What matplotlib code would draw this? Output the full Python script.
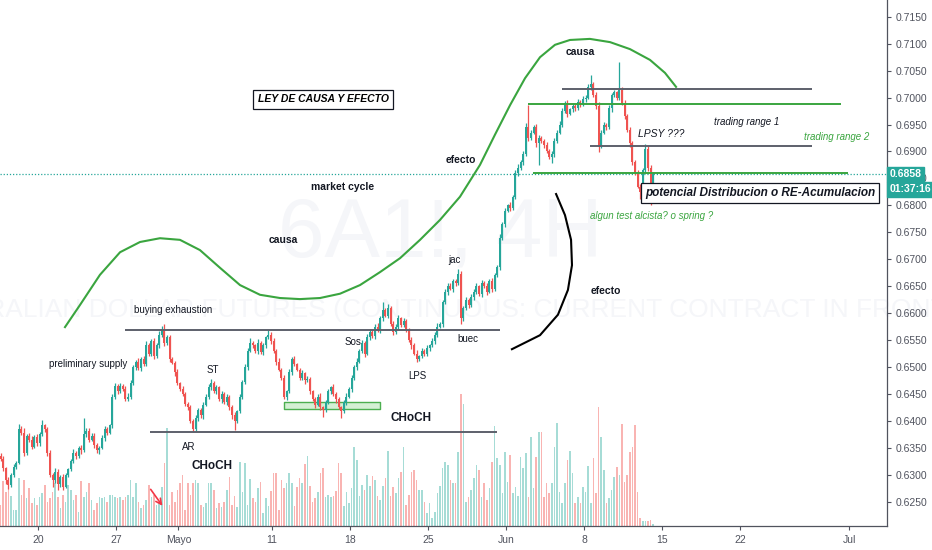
import matplotlib
matplotlib.use('Agg')
import matplotlib.pyplot as plt
import numpy as np

plt.rcParams['font.family'] = ['Liberation Sans', 'DejaVu Sans']

# 6A1! 4H candles, prices in pips (1e-4), open of each bar = previous close
first_open = 6335
closes = [
    6330, 6312, 6290, 6280, 6300, 6315, 6322, 6385, 6378, 6340, 6372, 6365,
    6352, 6370, 6358, 6375, 6392, 6385, 6340, 6300, 6290, 6305, 6282, 6295,
    6278, 6300, 6310, 6325, 6340, 6335, 6350, 6345, 6375, 6382, 6365, 6372,
    6355, 6345, 6350, 6368, 6385, 6378, 6392, 6445, 6465, 6455, 6465, 6460,
    6440, 6445, 6470, 6500, 6510, 6498, 6515, 6505, 6540, 6525, 6548, 6520,
    6540, 6560, 6568, 6545, 6555, 6515, 6508, 6490, 6470, 6460, 6450, 6432,
    6425, 6400, 6385, 6405, 6420, 6410, 6430, 6445, 6462, 6470, 6455, 6462,
    6440, 6450, 6435, 6445, 6425, 6410, 6400, 6418, 6445, 6472, 6500, 6530,
    6545, 6540, 6530, 6545, 6528, 6540, 6555, 6560, 6548, 6530, 6510, 6495,
    6480, 6445, 6455, 6490, 6515, 6505, 6495, 6480, 6488, 6475, 6478, 6455,
    6440, 6430, 6445, 6425, 6420, 6435, 6455, 6462, 6450, 6440, 6425, 6418,
    6435, 6445, 6460, 6480, 6500, 6510, 6530, 6545, 6525, 6555, 6565, 6558,
    6575, 6568, 6590, 6605, 6595, 6610, 6580, 6565, 6575, 6590, 6578, 6585,
    6570, 6550, 6540, 6525, 6515, 6520, 6530, 6525, 6535, 6540, 6548, 6560,
    6575, 6580, 6620, 6640, 6650, 6645, 6660, 6655, 6672, 6590, 6610, 6625,
    6615, 6630, 6640, 6650, 6635, 6655, 6650, 6640, 6660, 6645, 6670, 6685,
    6740, 6765, 6790, 6800, 6795, 6815, 6860, 6870, 6880, 6895, 6945, 6925,
    6935, 6945, 6915, 6925, 6920, 6912, 6900, 6890, 6895, 6920, 6935, 6950,
    6975, 6990, 6970, 6978, 6985, 6980, 6992, 6988, 6998, 7000, 7020, 7025,
    7005, 6985, 6910, 6935, 6950, 6945, 6980, 7005, 7010, 7000, 7015, 6990,
    6965, 6940, 6915, 6880, 6860, 6835, 6825, 6865, 6905, 6870, 6825, 6858,
]
wick_up = [
    5, 4, 3, 6, 4, 5, 3, 10, 6, 8, 4, 5,
    6, 3, 5, 4, 10, 3, 4, 6, 3, 8, 5, 4,
    6, 4, 3, 5, 7, 4, 3, 6, 30, 5, 4, 6,
    5, 3, 4, 6, 5, 4, 3, 5, 6, 4, 5, 3,
    4, 6, 5, 4, 3, 6, 4, 5, 8, 4, 3, 5,
    4, 6, 8, 12, 4, 5, 3, 4, 6, 3, 5, 4,
    3, 5, 4, 6, 4, 3, 5, 4, 6, 8, 4, 5,
    3, 6, 4, 5, 3, 4, 6, 3, 5, 4, 6, 5,
    8, 4, 3, 6, 4, 5, 3, 8, 4, 5, 3, 6,
    4, 5, 3, 6, 4, 5, 3, 4, 6, 3, 5, 4,
    3, 5, 4, 6, 3, 4, 5, 3, 6, 4, 5, 3,
    4, 6, 3, 5, 4, 6, 3, 5, 4, 6, 5, 3,
    4, 6, 5, 15, 4, 6, 3, 5, 4, 6, 3, 5,
    4, 3, 5, 4, 6, 3, 5, 4, 6, 3, 5, 4,
    6, 3, 5, 4, 6, 5, 3, 4, 10, 6, 4, 5,
    3, 6, 4, 5, 3, 6, 4, 5, 3, 6, 4, 5,
    6, 4, 5, 3, 6, 4, 5, 6, 4, 5, 8, 41,
    5, 4, 6, 5, 4, 3, 5, 4, 6, 5, 4, 6,
    5, 4, 6, 3, 5, 4, 6, 3, 5, 4, 6, 17,
    4, 5, 6, 4, 5, 3, 6, 4, 5, 3, 51, 4,
    5, 4, 6, 5, 4, 6, 5, 4, 8, 5, 4, 3,
]
wick_dn = [
    4, 5, 8, 6, 3, 4, 5, 3, 4, 6, 3, 5,
    4, 3, 5, 4, 3, 5, 6, 4, 12, 5, 10, 4,
    6, 3, 5, 4, 3, 5, 4, 6, 3, 5, 4, 3,
    5, 4, 6, 3, 5, 4, 3, 5, 4, 6, 3, 5,
    4, 3, 5, 4, 6, 3, 5, 4, 3, 5, 4, 6,
    3, 5, 4, 6, 4, 5, 3, 6, 4, 5, 3, 4,
    5, 4, 6, 3, 5, 4, 6, 3, 5, 4, 3, 5,
    4, 6, 3, 5, 4, 6, 17, 4, 3, 5, 4, 6,
    3, 5, 4, 6, 3, 5, 4, 3, 5, 4, 6, 3,
    5, 4, 6, 3, 5, 4, 3, 5, 4, 6, 3, 5,
    4, 6, 3, 5, 13, 4, 3, 5, 4, 6, 3, 13,
    4, 5, 3, 6, 4, 5, 3, 4, 6, 3, 5, 4,
    6, 3, 5, 4, 3, 5, 4, 6, 3, 5, 4, 3,
    5, 4, 6, 3, 5, 4, 3, 5, 4, 6, 3, 5,
    4, 3, 5, 4, 6, 3, 5, 4, 3, 10, 5, 4,
    6, 3, 5, 4, 3, 5, 4, 6, 3, 5, 4, 3,
    5, 4, 6, 3, 5, 4, 3, 5, 4, 6, 3, 5,
    4, 3, 6, 41, 4, 5, 3, 4, 12, 5, 4, 3,
    5, 4, 6, 3, 5, 4, 3, 5, 4, 6, 3, 5,
    4, 6, 11, 4, 3, 5, 4, 6, 3, 5, 4, 3,
    5, 4, 6, 5, 4, 3, 13, 4, 5, 6, 25, 4,
]
volume = [
    21, 45, 34, 39, 30, 16, 16, 48, 31, 46, 28, 38,
    23, 28, 21, 29, 33, 41, 24, 28, 34, 43, 29, 18,
    31, 24, 41, 36, 26, 31, 14, 45, 29, 34, 43, 26,
    16, 23, 29, 28, 29, 24, 31, 31, 29, 28, 29, 26,
    29, 31, 46, 29, 43, 24, 18, 21, 26, 41, 29, 31,
    21, 24, 39, 63, 98, 21, 34, 24, 36, 43, 51, 16,
    43, 31, 43, 46, 43, 21, 19, 23, 43, 43, 36, 18,
    23, 19, 24, 36, 49, 21, 30, 19, 64, 34, 63, 21,
    47, 28, 24, 38, 44, 13, 28, 20, 35, 53, 53, 16,
    46, 38, 43, 53, 43, 20, 39, 48, 43, 62, 70, 40,
    24, 28, 34, 53, 58, 29, 31, 29, 30, 35, 63, 53,
    20, 34, 23, 38, 79, 66, 30, 41, 36, 51, 40, 50,
    46, 30, 26, 40, 48, 75, 30, 39, 33, 48, 54, 79,
    21, 31, 54, 56, 46, 36, 36, 24, 13, 23, 8, 14,
    33, 40, 58, 64, 61, 46, 43, 43, 74, 132, 122, 24,
    29, 36, 48, 61, 56, 29, 43, 26, 38, 64, 100, 68,
    61, 33, 74, 44, 71, 33, 39, 30, 69, 58, 73, 29,
    89, 38, 69, 94, 94, 29, 43, 33, 43, 79, 103, 34,
    23, 43, 66, 75, 53, 23, 29, 23, 39, 34, 60, 23,
    68, 33, 119, 89, 56, 23, 28, 36, 49, 59, 51, 102,
    44, 51, 74, 79, 101, 34, 8, 5, 5, 5, 6, 2,
]

# x axis: trading days counted from Mon 20 Apr, 6 bars of 4H per day
first_bar_day = -2.4
bars_per_day = 6
day_ticks = [0, 5, 9, 15, 20, 25, 30, 35, 40, 45, 52]
day_labels = ['20', '27', 'Mayo', '11', '18', '25', 'Jun', '8', '15', '22', 'Jul']
price_ticks = [0.6250 + 0.005 * k for k in range(19)]

last_price = 0.6858
countdown = '01:37:16'
countdown_price = 0.6830

# hand drawn market cycle curve (trading day, price)
cycle_day = [1.73, 2.69, 3.97, 5.26, 6.54, 7.82, 9.10, 10.38, 11.67, 12.95, 14.23, 15.51,
             16.79, 18.08, 19.36, 20.64, 21.92, 23.21, 24.49, 25.77, 27.05, 28.33, 29.29,
             30.26, 31.22, 32.18, 33.14, 34.10, 35.38, 36.67, 37.95, 39.23, 40.19, 40.90]
cycle_price = [0.6574, 0.6615, 0.6671, 0.6713, 0.6732, 0.6739, 0.6736, 0.6717, 0.6684,
               0.6652, 0.6634, 0.6628, 0.6626, 0.6628, 0.6636, 0.6652, 0.6676, 0.6702,
               0.6736, 0.6773, 0.6816, 0.6875, 0.6931, 0.6986, 0.7036, 0.7075, 0.7098,
               0.7107, 0.7109, 0.7103, 0.7090, 0.7070, 0.7046, 0.7020]
efecto_day = [33.21, 33.78, 34.17, 34.23, 33.97, 33.33, 32.18, 30.38]
efecto_price = [0.6821, 0.6782, 0.6736, 0.6689, 0.6643, 0.6597, 0.6559, 0.6533]

UP, DOWN = '#26a69a', '#ef5350'
GREEN_LINE = '#3aa53f'
GRAY_LINE = '#5d606b'

c = np.array(closes) / 1e4
o = np.r_[first_open, closes[:-1]] / 1e4
hi = np.maximum(o, c) + np.array(wick_up) / 1e4
lo = np.minimum(o, c) - np.array(wick_dn) / 1e4
x = first_bar_day + np.arange(len(c)) / bars_per_day
up = c >= o
colors = np.where(up, UP, DOWN)

fig = plt.figure(figsize=(9.32, 5.5), dpi=100)
rect = [0, 24 / 550, 887 / 932, 526 / 550]
vax = fig.add_axes(rect)
ax = fig.add_axes(rect, sharex=vax)
ax.patch.set_visible(False)

# volume in the background
vax.bar(x, volume, width=0.1, color=np.where(up, '#a6dcd6', '#f9b4b2'))
vax.set_ylim(0, 526)
vax.axis('off')

# watermark
ax.text(25.8, 0.6745, '6A1!, 4H', fontsize=60, color='#f5f6f9', ha='center', va='center', zorder=0)
ax.text(25.5, 0.6605, 'AUSTRALIAN DOLLAR FUTURES (CONTINUOUS: CURRENT CONTRACT IN FRONT)',
        fontsize=19, color='#f5f6f9', ha='center', va='center', zorder=0)

# candles
ax.vlines(x, lo, hi, colors=colors, lw=0.9, zorder=3)
body = np.maximum(np.abs(c - o), 0.00008)
ax.bar(x, body, bottom=np.minimum(o, c), width=0.13, color=colors, zorder=3)

# horizontal levels
ax.hlines(0.6569, 5.58, 29.6, color=GRAY_LINE, lw=1.4, zorder=4)
ax.hlines(0.6379, 7.18, 29.4, color=GRAY_LINE, lw=1.4, zorder=4)
ax.hlines(0.7016, 33.6, 49.6, color=GRAY_LINE, lw=1.4, zorder=4)
ax.hlines(0.6910, 35.4, 49.6, color=GRAY_LINE, lw=1.4, zorder=4)
ax.hlines(0.6988, 31.4, 51.5, color=GREEN_LINE, lw=1.4, zorder=4)
ax.hlines(0.6860, 31.7, 51.9, color=GREEN_LINE, lw=1.4, zorder=4)
ax.axhline(last_price, color=UP, ls=(0, (1, 1.5)), lw=0.9, zorder=2)
ax.fill_between([15.77, 21.92], 0.6422, 0.6435, facecolor='#d4f0d4', edgecolor='#4caf50', lw=1, zorder=2)

# drawn curves
ax.plot(cycle_day, cycle_price, color=GREEN_LINE, lw=1.5, zorder=4)
ax.plot(efecto_day, efecto_price, color='black', lw=1.5, zorder=4)
ax.annotate('', xy=(8.08, 0.6238), xytext=(7.12, 0.6277),
            arrowprops=dict(arrowstyle='->', color='#f23645', lw=1.2), zorder=5)

# labels
bold = dict(fontsize=7.5, fontweight='bold', color='#131722', ha='center', va='center', zorder=6)
plain = dict(fontsize=7, color='#131722', ha='center', va='center', zorder=6)
ax.text(18.27, 0.6997, 'LEY DE CAUSA Y EFECTO', fontsize=7.5, fontweight='bold', style='italic',
        ha='center', va='center', zorder=6,
        bbox=dict(boxstyle='square,pad=0.45', fc='white', ec='#131722', lw=0.9))
ax.text(19.55, 0.6834, 'market cycle', **bold)
ax.text(15.71, 0.6736, 'causa', **bold)
ax.text(27.12, 0.6884, 'efecto', **bold)
ax.text(36.41, 0.6641, 'efecto', **bold)
ax.text(34.74, 0.7085, 'causa', **bold)
ax.text(26.67, 0.6699, 'jac', **plain)
ax.text(8.65, 0.6606, 'buying exhaustion', **plain)
ax.text(3.21, 0.6506, 'preliminary supply', **plain)
ax.text(11.22, 0.6494, 'ST', **plain)
ax.text(20.19, 0.6546, 'Sos', **plain)
ax.text(27.56, 0.6552, 'buec', **plain)
ax.text(24.29, 0.6483, 'LPS', **plain)
ax.text(9.68, 0.6352, 'AR', **plain)
ax.text(23.91, 0.6405, 'CHoCH', fontsize=8.5, fontweight='bold', color='#131722', ha='center', va='center', zorder=6)
ax.text(11.15, 0.6316, 'CHoCH', fontsize=8.5, fontweight='bold', color='#131722', ha='center', va='center', zorder=6)
ax.text(45.45, 0.6955, 'trading range 1', fontsize=7, style='italic', color='#131722', ha='center', va='center', zorder=6)
ax.text(51.22, 0.6927, 'trading range 2', fontsize=7, style='italic', color=GREEN_LINE, ha='center', va='center', zorder=6)
ax.text(39.94, 0.6932, 'LPSY ???', fontsize=7.5, style='italic', color='#131722', ha='center', va='center', zorder=6)
ax.text(39.36, 0.6780, 'algun test alcista? o spring ?', fontsize=7, style='italic', color=GREEN_LINE,
        ha='center', va='center', zorder=6)
ax.text(46.28, 0.6823, 'potencial Distribucion o RE-Acumulacion', fontsize=8.5, fontweight='bold',
        style='italic', color='#131722', ha='center', va='center', zorder=6,
        bbox=dict(boxstyle='square,pad=0.3', fc='white', ec='#131722', lw=0.9))

# axes
ax.set_xlim(-38 / 15.6, (887 - 38) / 15.6)
ax.set_ylim(0.62048, 0.71812)
ax.set_xticks(day_ticks)
ax.set_xticklabels(day_labels)
ax.yaxis.tick_right()
ax.set_yticks(price_ticks)
ax.set_yticklabels([f'{p:.4f}' for p in price_ticks])
ax.tick_params(axis='both', labelsize=7.5, colors='#50535e', length=3, width=0.8)
for side in ['left', 'top']:
    ax.spines[side].set_visible(False)
for side in ['right', 'bottom']:
    ax.spines[side].set_color('#50535e')
    ax.spines[side].set_linewidth(0.9)

ylab = ax.get_yaxis_transform()
ax.text(1.003, last_price, f'{last_price:.4f}', transform=ylab, fontsize=7.5, fontweight='bold',
        color='white', va='center', ha='left', zorder=7,
        bbox=dict(boxstyle='square,pad=0.25', fc=UP, ec=UP))
ax.text(1.003, countdown_price, countdown, transform=ylab, fontsize=7.5, fontweight='bold',
        color='white', va='center', ha='left', zorder=7,
        bbox=dict(boxstyle='square,pad=0.25', fc=UP, ec=UP))

fig.savefig('out.png', dpi=100)
